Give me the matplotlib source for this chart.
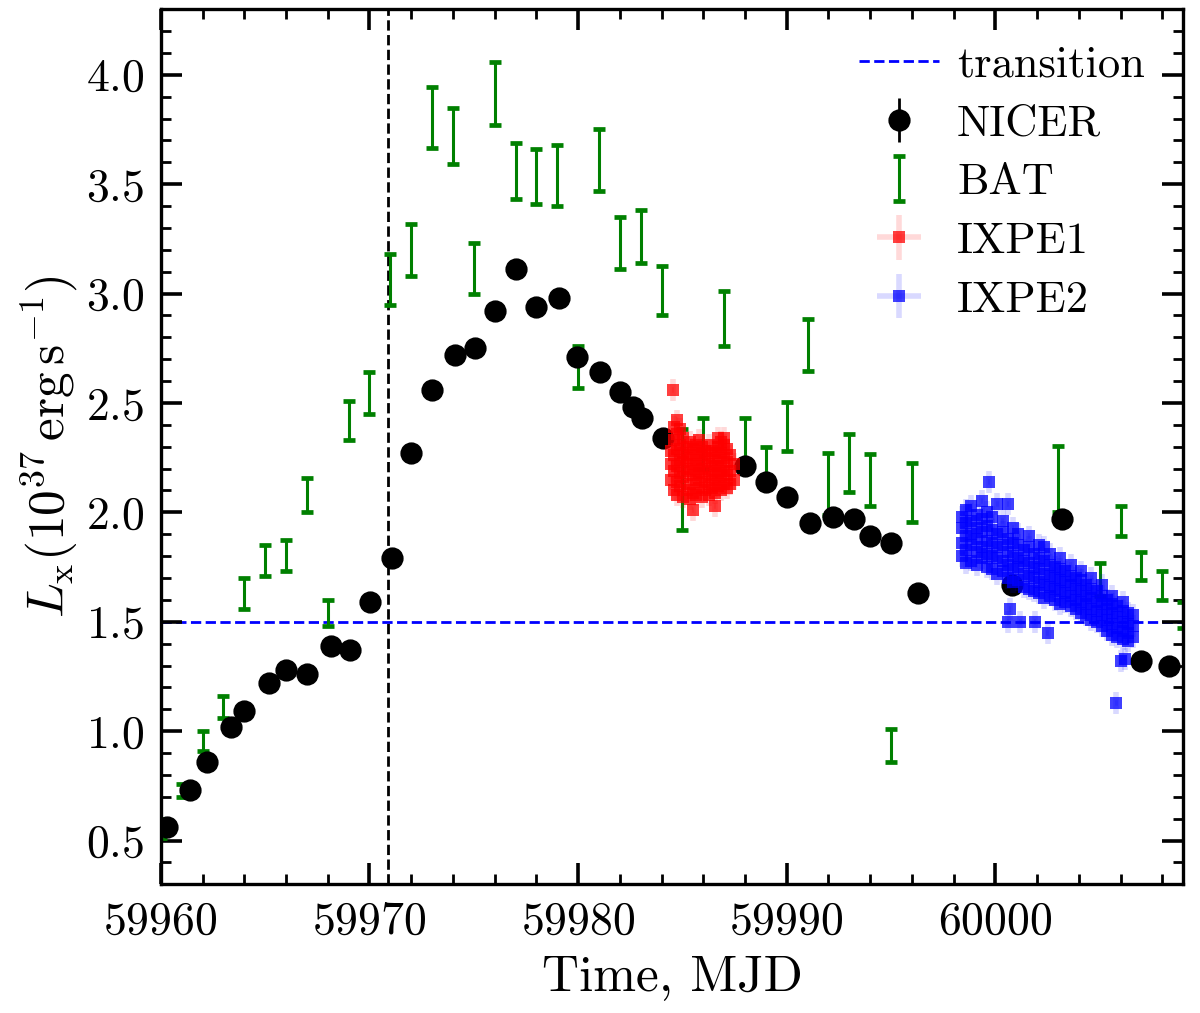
import numpy as np
import matplotlib
matplotlib.use('Agg')
import matplotlib.pyplot as plt
from matplotlib.ticker import MultipleLocator

plt.rcParams['font.family'] = 'cmr10'
plt.rcParams['mathtext.fontset'] = 'cm'
plt.rcParams['axes.formatter.use_mathtext'] = True
plt.rcParams['axes.unicode_minus'] = False

# NICER light curve (MJD, Lx in 1e37 erg/s)
nicer_t = [59960.3, 59961.4, 59962.2, 59963.35, 59964.0, 59965.2, 59966.0, 59967.0,
           59968.15, 59969.05, 59970.05, 59971.1, 59972.0, 59973.0, 59974.1, 59975.05,
           59976.0, 59977.0, 59978.0, 59979.1, 59979.95, 59981.05, 59982.0, 59982.65,
           59983.05, 59984.05, 59988.0, 59989.0, 59990.0, 59991.1, 59992.2, 59993.2,
           59994.0, 59995.0, 59996.3, 60000.8, 60003.2, 60007.0, 60008.3]
nicer_L = [0.56, 0.73, 0.86, 1.02, 1.09, 1.22, 1.28, 1.26,
           1.39, 1.37, 1.59, 1.79, 2.27, 2.56, 2.72, 2.75,
           2.92, 3.11, 2.94, 2.98, 2.71, 2.64, 2.55, 2.48,
           2.43, 2.34, 2.21, 2.14, 2.07, 1.95, 1.98, 1.97,
           1.89, 1.86, 1.63, 1.67, 1.97, 1.32, 1.30]

# Swift/BAT (bar bottom and top)
bat_t = [59960, 59961, 59962, 59963, 59964, 59965, 59966, 59967, 59968, 59969,
         59970, 59971, 59972, 59973, 59974, 59975, 59976, 59977, 59978, 59979,
         59980, 59981, 59982, 59983, 59984, 59985, 59986, 59987, 59988, 59989,
         59990, 59991, 59992, 59993, 59994, 59995, 59996, 60003, 60005, 60006,
         60007, 60008, 60009]
bat_lo = [0.51, 0.70, 0.91, 1.06, 1.56, 1.71, 1.73, 2.00, 1.48, 2.33,
          2.45, 2.95, 3.08, 3.665, 3.59, 3.00, 3.77, 3.43, 3.41, 3.40,
          2.57, 3.47, 3.11, 3.14, 2.90, 1.92, 2.20, 2.76, 2.22, 2.12,
          2.28, 2.645, 1.99, 2.095, 2.03, 0.86, 1.955, 2.00, 1.62, 1.89,
          1.69, 1.60, 1.47]
bat_hi = [0.60, 0.76, 1.00, 1.16, 1.70, 1.85, 1.875, 2.155, 1.60, 2.51,
          2.64, 3.18, 3.32, 3.945, 3.85, 3.23, 4.06, 3.69, 3.66, 3.68,
          2.76, 3.75, 3.35, 3.38, 3.125, 2.38, 2.43, 3.01, 2.43, 2.30,
          2.505, 2.886, 2.27, 2.36, 2.265, 1.01, 2.225, 2.305, 1.77, 2.03,
          1.82, 1.73, 1.59]

# IXPE first observation
ixpe1_t = [59984.45, 59984.45, 59984.45,
           59984.6, 59984.6, 59984.6, 59984.6, 59984.6,
           59984.75, 59984.75, 59984.75, 59984.75, 59984.75, 59984.75,
           59984.9, 59984.9, 59984.9, 59984.9, 59984.9,
           59985.05, 59985.05, 59985.05, 59985.05, 59985.05,
           59985.2, 59985.2, 59985.2, 59985.2,
           59985.35, 59985.35, 59985.35, 59985.35, 59985.35,
           59985.5, 59985.5, 59985.5, 59985.5, 59985.5,
           59985.65, 59985.65, 59985.65, 59985.65,
           59985.8, 59985.8, 59985.8, 59985.8, 59985.8,
           59985.95, 59985.95, 59985.95, 59985.95, 59985.95,
           59986.1, 59986.1, 59986.1, 59986.1,
           59986.25, 59986.25, 59986.25, 59986.25, 59986.25,
           59986.4, 59986.4, 59986.4, 59986.4,
           59986.55, 59986.55, 59986.55, 59986.55, 59986.55,
           59986.7, 59986.7, 59986.7, 59986.7, 59986.7,
           59986.85, 59986.85, 59986.85, 59986.85, 59986.85,
           59987.0, 59987.0, 59987.0, 59987.0, 59987.0,
           59987.15, 59987.15, 59987.15, 59987.15,
           59987.3, 59987.3, 59987.3,
           59987.45, 59987.45,
           59984.55]
ixpe1_L = [2.15, 2.22, 2.28,
           2.10, 2.19, 2.26, 2.33, 2.39,
           2.08, 2.14, 2.21, 2.29, 2.36, 2.42,
           2.12, 2.18, 2.24, 2.31, 2.38,
           2.07, 2.16, 2.23, 2.27, 2.34,
           2.10, 2.20, 2.25, 2.30,
           2.06, 2.13, 2.19, 2.26, 2.32,
           2.09, 2.17, 2.22, 2.29, 2.01,
           2.08, 2.15, 2.24, 2.31,
           2.11, 2.18, 2.21, 2.27, 2.33,
           2.07, 2.14, 2.20, 2.26, 2.30,
           2.10, 2.16, 2.23, 2.28,
           2.08, 2.13, 2.19, 2.25, 2.31,
           2.11, 2.17, 2.22, 2.28,
           2.09, 2.15, 2.21, 2.27, 2.03,
           2.12, 2.18, 2.24, 2.30, 2.34,
           2.10, 2.16, 2.21, 2.27, 2.32,
           2.13, 2.19, 2.25, 2.31, 2.34,
           2.11, 2.17, 2.23, 2.29,
           2.13, 2.19, 2.26,
           2.15, 2.22,
           2.56]

# IXPE second observation
ixpe2_t = [59998.4, 59998.4, 59998.4, 59998.4,
           59998.6, 59998.6, 59998.6, 59998.6, 59998.6,
           59998.85, 59998.85, 59998.85, 59998.85, 59998.85,
           59999.1, 59999.1, 59999.1, 59999.1, 59999.1,
           59999.35, 59999.35, 59999.35, 59999.35, 59999.35,
           59999.6, 59999.6, 59999.6, 59999.6, 59999.6,
           59999.7,
           59999.85, 59999.85, 59999.85, 59999.85, 59999.85,
           60000.1, 60000.1, 60000.1, 60000.1, 60000.1,
           60000.35, 60000.35, 60000.35, 60000.35, 60000.35,
           60000.6, 60000.6, 60000.6, 60000.6, 60000.6,
           60000.85, 60000.85, 60000.85, 60000.85, 60000.85,
           60001.1, 60001.1, 60001.1, 60001.1, 60001.1,
           60001.35, 60001.35, 60001.35, 60001.35,
           60001.6, 60001.6, 60001.6, 60001.6, 60001.6,
           60001.85, 60001.85, 60001.85, 60001.85,
           60002.1, 60002.1, 60002.1, 60002.1, 60002.1,
           60002.35, 60002.35, 60002.35, 60002.35, 60002.35,
           60002.6, 60002.6, 60002.6, 60002.6, 60002.6,
           60002.85, 60002.85, 60002.85, 60002.85,
           60003.1, 60003.1, 60003.1, 60003.1, 60003.1,
           60003.35, 60003.35, 60003.35, 60003.35,
           60003.6, 60003.6, 60003.6, 60003.6, 60003.6,
           60003.85, 60003.85, 60003.85, 60003.85,
           60004.1, 60004.1, 60004.1, 60004.1, 60004.1,
           60004.35, 60004.35, 60004.35, 60004.35,
           60004.6, 60004.6, 60004.6, 60004.6, 60004.6,
           60004.85, 60004.85, 60004.85, 60004.85,
           60005.1, 60005.1, 60005.1, 60005.1, 60005.1,
           60005.35, 60005.35, 60005.35, 60005.35,
           60005.6, 60005.6, 60005.6, 60005.6, 60005.6,
           60005.85, 60005.85, 60005.85, 60005.85,
           60006.1, 60006.1, 60006.1, 60006.1, 60006.1,
           60006.35, 60006.35, 60006.35, 60006.35,
           60006.6, 60006.6, 60006.6,
           60000.7, 60002.5, 60005.8, 60006.0, 60006.2,
           60000.6, 60001.2, 60001.9]
ixpe2_L = [1.80, 1.86, 1.93, 1.98,
           1.77, 1.83, 1.89, 1.95, 2.01,
           1.78, 1.85, 1.90, 1.96, 2.03,
           1.76, 1.82, 1.88, 1.93, 1.99,
           1.79, 1.84, 1.91, 1.97, 2.05,
           1.75, 1.81, 1.87, 1.94, 2.00,
           2.14,
           1.74, 1.80, 1.86, 1.92, 1.98,
           1.72, 1.79, 1.84, 1.90, 2.04,
           1.73, 1.78, 1.85, 1.91, 1.96,
           1.70, 1.76, 1.82, 1.88, 2.04,
           1.68, 1.74, 1.80, 1.86, 1.93,
           1.69, 1.75, 1.79, 1.85, 1.90,
           1.66, 1.72, 1.78, 1.83,
           1.65, 1.71, 1.77, 1.84, 1.89,
           1.64, 1.70, 1.75, 1.81,
           1.63, 1.68, 1.74, 1.79, 1.85,
           1.61, 1.67, 1.72, 1.78, 1.84,
           1.62, 1.66, 1.71, 1.76, 1.81,
           1.60, 1.65, 1.70, 1.75,
           1.58, 1.64, 1.69, 1.74, 1.79,
           1.59, 1.63, 1.68, 1.73,
           1.57, 1.62, 1.67, 1.71, 1.76,
           1.56, 1.60, 1.65, 1.70,
           1.54, 1.59, 1.64, 1.69, 1.73,
           1.53, 1.58, 1.62, 1.67,
           1.51, 1.56, 1.61, 1.65, 1.70,
           1.50, 1.55, 1.59, 1.64,
           1.48, 1.53, 1.58, 1.62, 1.67,
           1.46, 1.51, 1.56, 1.60,
           1.44, 1.49, 1.54, 1.58, 1.62,
           1.43, 1.47, 1.52, 1.57,
           1.42, 1.46, 1.50, 1.55, 1.59,
           1.41, 1.45, 1.49, 1.54,
           1.43, 1.48, 1.53,
           1.56, 1.45, 1.13, 1.32, 1.33,
           1.50, 1.50, 1.50]

L_transition = 1.5
t_vline = 59970.9

bat_t = np.array(bat_t)
bat_lo = np.array(bat_lo)
bat_hi = np.array(bat_hi)
bat_mid = 0.5 * (bat_lo + bat_hi)
bat_err = 0.5 * (bat_hi - bat_lo)

fig = plt.figure(figsize=(6, 5.065), dpi=200)
ax = fig.add_axes([0.134, 0.127, 0.852, 0.864])

hl = ax.axhline(L_transition, color='blue', ls='--', lw=1.0, label='transition', zorder=1)
ax.axvline(t_vline, color='black', ls='--', lw=1.0, zorder=1)

h_nicer = ax.errorbar(nicer_t, nicer_L, yerr=0.01, fmt='o', color='black', ms=7,
                      elinewidth=1.0, label='NICER', zorder=3)
h_bat = ax.errorbar(bat_t, bat_mid, yerr=bat_err, fmt='none', ecolor='green',
                    elinewidth=1.1, capsize=2.0, capthick=1.7, label='BAT', zorder=2)
h_ix1 = ax.errorbar(ixpe1_t, ixpe1_L, xerr=0.06, yerr=0.05, fmt='s', color='red', ms=4.3,
                    mew=0, alpha=0.75, elinewidth=2.0, label='IXPE1', zorder=4)
h_ix2 = ax.errorbar(ixpe2_t, ixpe2_L, xerr=0.06, yerr=0.05, fmt='s', color='blue', ms=4.3,
                    mew=0, alpha=0.75, elinewidth=2.0, label='IXPE2', zorder=4)
for h in (h_ix1, h_ix2):
    for c in h[2]:
        c.set_alpha(0.15)

ax.set_xlim(59960, 60009)
ax.set_ylim(0.3, 4.3)
ax.xaxis.set_major_locator(MultipleLocator(10))
ax.xaxis.set_minor_locator(MultipleLocator(2))
ax.yaxis.set_major_locator(MultipleLocator(0.5))
ax.yaxis.set_minor_locator(MultipleLocator(0.1))
ax.ticklabel_format(axis='x', useOffset=False, style='plain')
ax.tick_params(which='both', direction='in', top=True, right=True, labelsize=16.5)
ax.tick_params(which='major', length=7.5, width=1.3, pad=6)
ax.tick_params(which='minor', length=3.6, width=1.0)
for s in ax.spines.values():
    s.set_linewidth(1.2)

ax.set_xlabel('Time, MJD', fontsize=18.5, labelpad=4)
ax.set_ylabel(r'$L_{\rm x}(10^{37}\,{\rm erg\,s^{-1}})$', fontsize=18.5, labelpad=2)

ax.legend(handles=[hl, h_nicer, h_bat, h_ix1, h_ix2], loc='upper right', frameon=False,
          fontsize=16, handlelength=1.8, handletextpad=0.4, labelspacing=0.42,
          borderaxespad=0.42, bbox_to_anchor=(0.998, 1.0))

fig.savefig('out.png', dpi=200)
